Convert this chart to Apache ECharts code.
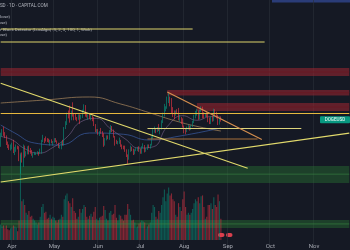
<!DOCTYPE html>
<html><head><meta charset="utf-8">
<script src="https://cdn.jsdelivr.net/npm/echarts@6/dist/echarts.min.js"></script>
<style>html,body{margin:0;padding:0;background:#151924;}#c{width:350px;height:250px;}</style>
</head><body><div id="c"></div>
<script>
// ---------- data ----------
const startDate = '2025-03-24';
const dayCount = 248; // visible daily slots (data + empty future space)
const monthNames = ['Jan','Feb','Mar','Apr','May','Jun','Jul','Aug','Sep','Oct','Nov','Dec'];

// daily candles [open, close, low, high], from 2025-03-24
const ohlc = [
[0.170,0.190,0.168,0.193],[0.190,0.195,0.186,0.200],[0.195,0.190,0.187,0.205],[0.190,0.186,0.183,0.194],
[0.186,0.175,0.171,0.188],[0.175,0.170,0.166,0.177],[0.170,0.167,0.163,0.172],[0.167,0.167,0.162,0.172],
[0.167,0.172,0.164,0.175],[0.172,0.163,0.158,0.180],[0.163,0.164,0.155,0.168],[0.164,0.168,0.160,0.172],
[0.168,0.167,0.164,0.170],[0.167,0.149,0.146,0.169],[0.149,0.150,0.129,0.156],[0.150,0.146,0.144,0.159],
[0.146,0.169,0.138,0.172],[0.169,0.155,0.151,0.170],[0.155,0.158,0.153,0.161],[0.158,0.167,0.156,0.169],
[0.167,0.159,0.156,0.170],[0.159,0.158,0.157,0.166],[0.158,0.155,0.154,0.163],[0.155,0.156,0.151,0.158],
[0.156,0.157,0.155,0.160],[0.157,0.157,0.155,0.159],[0.157,0.158,0.156,0.161],[0.158,0.157,0.154,0.160],
[0.157,0.160,0.157,0.165],[0.160,0.178,0.157,0.180],[0.178,0.182,0.176,0.189],[0.182,0.181,0.174,0.183],
[0.181,0.180,0.177,0.186],[0.180,0.179,0.176,0.183],[0.179,0.177,0.175,0.182],[0.177,0.177,0.170,0.180],
[0.177,0.176,0.174,0.181],[0.176,0.177,0.170,0.178],
[0.177,0.180,0.175,0.183],[0.180,0.177,0.176,0.183],[0.177,0.174,0.173,0.179],[0.174,0.168,0.166,0.175],
[0.168,0.168,0.165,0.171],[0.168,0.176,0.164,0.177],[0.176,0.171,0.170,0.180],[0.171,0.202,0.170,0.204],
[0.202,0.210,0.200,0.216],[0.210,0.232,0.208,0.235],[0.232,0.228,0.222,0.240],[0.228,0.220,0.213,0.252],
[0.220,0.236,0.218,0.240],[0.236,0.230,0.226,0.260],[0.230,0.224,0.218,0.232],[0.224,0.222,0.219,0.232],
[0.222,0.220,0.216,0.225],[0.220,0.229,0.219,0.231],[0.229,0.222,0.210,0.231],[0.222,0.226,0.220,0.230],
[0.226,0.238,0.223,0.242],[0.238,0.245,0.236,0.255],[0.245,0.228,0.226,0.253],[0.228,0.226,0.224,0.232],
[0.226,0.229,0.219,0.231],[0.229,0.222,0.221,0.234],[0.222,0.226,0.218,0.231],[0.226,0.218,0.216,0.228],
[0.218,0.208,0.206,0.225],[0.208,0.196,0.194,0.210],[0.196,0.198,0.193,0.200],
[0.198,0.192,0.189,0.200],[0.192,0.195,0.187,0.196],[0.195,0.193,0.191,0.202],[0.193,0.187,0.185,0.196],
[0.187,0.171,0.168,0.192],[0.171,0.181,0.170,0.183],[0.181,0.186,0.179,0.188],[0.186,0.184,0.181,0.188],
[0.184,0.197,0.180,0.198],[0.197,0.203,0.193,0.208],[0.203,0.197,0.194,0.206],[0.197,0.186,0.184,0.199],
[0.186,0.178,0.170,0.187],[0.178,0.175,0.173,0.180],[0.175,0.175,0.172,0.178],[0.175,0.177,0.173,0.184],
[0.177,0.170,0.168,0.180],[0.170,0.169,0.164,0.172],[0.169,0.166,0.164,0.170],[0.166,0.162,0.160,0.170],
[0.162,0.155,0.152,0.164],[0.155,0.151,0.142,0.156],[0.151,0.162,0.148,0.164],[0.162,0.167,0.160,0.170],
[0.167,0.162,0.161,0.168],[0.162,0.157,0.155,0.165],[0.157,0.163,0.156,0.164],[0.163,0.164,0.161,0.166],
[0.164,0.165,0.161,0.168],[0.165,0.164,0.160,0.169],
[0.164,0.159,0.157,0.165],[0.159,0.168,0.157,0.169],[0.168,0.170,0.166,0.174],[0.170,0.161,0.159,0.171],
[0.161,0.165,0.160,0.166],[0.165,0.170,0.163,0.172],[0.170,0.168,0.166,0.172],[0.168,0.172,0.165,0.173],
[0.172,0.184,0.170,0.186],[0.184,0.198,0.182,0.200],[0.198,0.199,0.193,0.205],[0.199,0.196,0.192,0.201],
[0.196,0.201,0.194,0.204],[0.201,0.198,0.196,0.210],[0.198,0.201,0.190,0.203],[0.201,0.216,0.199,0.218],
[0.216,0.232,0.212,0.235],[0.232,0.241,0.226,0.256],[0.241,0.247,0.238,0.250],[0.247,0.265,0.244,0.275],
[0.265,0.270,0.258,0.287],[0.270,0.268,0.250,0.275],[0.268,0.240,0.234,0.271],[0.240,0.238,0.225,0.248],
[0.238,0.229,0.220,0.240],[0.229,0.237,0.228,0.240],[0.237,0.236,0.232,0.243],[0.236,0.220,0.218,0.246],
[0.220,0.222,0.215,0.230],[0.222,0.216,0.210,0.225],[0.216,0.205,0.203,0.222],
[0.205,0.197,0.192,0.207],[0.197,0.196,0.190,0.202],[0.196,0.203,0.194,0.205],[0.203,0.205,0.199,0.209],
[0.205,0.201,0.197,0.207],[0.201,0.206,0.198,0.208],[0.206,0.214,0.204,0.217],[0.214,0.226,0.212,0.230],
[0.226,0.233,0.222,0.239],[0.233,0.236,0.228,0.244],[0.236,0.224,0.219,0.240],[0.224,0.240,0.220,0.242],
[0.240,0.245,0.236,0.250],[0.245,0.230,0.222,0.249],[0.230,0.228,0.222,0.236],[0.228,0.229,0.225,0.232],
[0.229,0.228,0.225,0.236],[0.228,0.220,0.214,0.232],[0.220,0.213,0.210,0.224],[0.213,0.224,0.210,0.226],
[0.224,0.219,0.215,0.228],[0.219,0.238,0.216,0.244],[0.238,0.233,0.229,0.243],[0.233,0.227,0.222,0.237],
[0.227,0.212,0.208,0.230],[0.212,0.220,0.209,0.223],[0.220,0.219,0.215,0.226]
];

// daily volume (billions), same days as ohlc
const volume = [
1.6,1.4,1.5,1.2,1.5,1.1,1.0,1.2,
1.3,1.5,1.4,1.3,0.9,2.0,9.0,4.0,4.2,3.6,2.8,2.6,3.0,2.4,2.5,2.2,2.0,1.8,1.6,1.8,2.4,3.4,3.7,2.8,2.9,2.2,2.3,2.6,2.2,2.4,
2.3,2.0,1.8,2.1,2.2,2.6,2.4,4.2,4.6,4.8,4.0,3.8,3.4,4.3,3.0,2.8,2.2,2.4,3.2,2.8,3.2,3.6,3.4,2.4,2.2,2.5,2.7,2.4,2.9,3.4,2.2,
2.0,2.3,2.4,2.5,3.5,3.1,2.2,2.0,2.8,3.0,2.6,2.7,3.6,2.3,2.0,2.6,2.5,2.2,2.0,2.6,2.6,3.7,3.2,2.6,2.0,2.1,1.8,1.3,1.4,1.7,
1.8,2.0,1.9,1.8,1.2,1.4,1.6,1.8,2.8,3.6,3.4,2.4,2.2,3.0,2.8,3.6,4.4,5.2,4.0,4.8,5.4,4.6,4.8,4.2,4.0,2.6,2.4,3.8,3.4,3.0,4.2,
5.0,3.4,2.6,2.8,2.6,2.8,3.2,3.8,4.2,4.0,4.4,3.8,4.5,4.6,3.4,2.2,2.4,3.6,3.6,3.8,3.2,4.4,3.6,3.4,4.7,4.0,2.2
];

// moving averages (date, price)
const maSlow = [['2025-03-24',0.2582],['2025-04-24',0.2659],['2025-05-26',0.2739],['2025-06-17',0.2557],['2025-07-08',0.2341],['2025-07-26',0.2165],['2025-08-12',0.2041],['2025-08-27',0.1962]];
const maMid = [['2025-03-24',0.2081],['2025-04-03',0.1924],['2025-04-17',0.1744],['2025-05-05',0.1711],['2025-05-26',0.1924],['2025-06-19',0.1900],['2025-07-07',0.1797],['2025-07-29',0.1868],['2025-08-27',0.2021]];
const maFast = [['2025-03-24',0.186],['2025-04-01',0.180],['2025-04-10',0.165],['2025-04-20',0.158],['2025-04-30',0.167],['2025-05-10',0.185],['2025-05-20',0.215],['2025-05-31',0.222],['2025-06-10',0.200],['2025-06-20',0.182],['2025-06-30',0.166],['2025-07-10',0.168],['2025-07-20',0.205],['2025-07-31',0.228],['2025-08-10',0.218],['2025-08-20',0.226],['2025-08-27',0.225]];

// order-block zones (price ranges, start date)
const bearZones = [
  {start:'2025-03-24', low:0.3365, high:0.3639},
  {start:'2025-07-20', low:0.2779, high:0.2933},
  {start:'2025-08-10', low:0.2387, high:0.2582}
];
const bullZones = [
  {start:'2025-03-24', low:0.1179, high:0.1392},
  {start:'2025-03-24', low:0.0758, high:0.0820}
];
// horizontal drawn levels
const levels = [
  {start:'2025-03-24', end:'2025-08-07', price:0.5334},
  {start:'2025-03-24', end:'2025-09-27', price:0.4696},
  {start:'2025-03-24', end:'2025-11-26', price:0.2330},
  {start:'2025-07-06', end:'2025-10-23', price:0.2011},
  {start:'2025-07-06', end:'2025-09-22', price:0.1814}
];
// trend lines
const trendLines = [
  {from:['2025-03-24',0.3135], to:['2025-09-15',0.1363]},
  {from:['2025-07-20',0.2873], to:['2025-09-25',0.1805]},
  {from:['2025-03-24',0.1191], to:['2025-11-26',0.1922]}
];
const headerTexts = ['DOGEUSD · 1D · CAPITAL.COM','MA (200, close)','MA (50, close)','Order Block Detector (LuxAlgo) (5, 2, 3, 100, 1, Wick)','MA (20, close)'];
const tickerName = 'DOGEUSD';

// ---------- styles ----------
const UP = '#089981', DOWN = '#f23645';
const levelColors = ['#ddd36a','#ddd36a','#e6b83e','#ddd47c','#a8703a'];
const trendColors = ['#e2da6c','#d8904f','#e2da6c'];

// ---------- build ----------
const dates = [];
const d0 = new Date(startDate + 'T00:00:00Z');
for (let i = 0; i < dayCount; i++) dates.push(new Date(d0.getTime() + i*86400000).toISOString().slice(0,10));
const lastDate = dates[dates.length-1];
const isMonthStart = (i, v) => v.slice(8,10) === '01';

const zoneArea = (z, fill) => [
  {xAxis: z.start, yAxis: z.high, itemStyle:{color: fill}},
  {xAxis: lastDate, yAxis: z.low}
];
const areaData = bearZones.map(z => zoneArea(z, 'rgba(160,38,50,0.55)'))
  .concat(bullZones.map(z => zoneArea(z, 'rgba(40,118,52,0.42)')));

// straight segments drawn as two-point line series on the price axes
const segment = (a, b, color, z, w) => ({
  type:'line', xAxisIndex:0, yAxisIndex:0, data:[a, b], symbol:'none', silent:true, z: z,
  lineStyle:{color: color, width: w}
});
const midSeries = bearZones.map(z => segment([z.start, (z.low+z.high)/2], [lastDate, (z.low+z.high)/2], 'rgba(105,25,35,0.85)', 2, 1))
  .concat(bullZones.map(z => segment([z.start, (z.low+z.high)/2], [lastDate, (z.low+z.high)/2], 'rgba(60,140,70,0.55)', 2, 1)));
const levelSeries = levels.map((l, i) => segment([l.start, l.price], [l.end, l.price], levelColors[i], 6, 1.2));
const trendSeries = trendLines.map((t, i) => segment(t.from, t.to, trendColors[i], 6, 1.1));

const volData = volume.map((v, i) => ({value: v, itemStyle:{color: ohlc[i][1] >= ohlc[i][0] ? 'rgba(8,153,129,0.5)' : 'rgba(242,54,69,0.5)'}}));

const headerGraphics = [
  {type:'rect', shape:{x:272, y:0, width:78, height:2.5}, style:{fill:'#2a3c78'}},
  {type:'text', x:-15, y:5.5, style:{text: headerTexts[0], fill:'#b2b5be', font:'4.6px Roboto', align:'left', verticalAlign:'middle'}},
  {type:'text', x:10, y:17, style:{text: headerTexts[1], fill:'#b2b5be', font:'4.4px Roboto', align:'right', verticalAlign:'middle'}},
  {type:'text', x:7, y:23, style:{text: headerTexts[2], fill:'#b2b5be', font:'4.4px Roboto', align:'right', verticalAlign:'middle'}},
  {type:'text', x:92, y:29.5, style:{text: headerTexts[3], fill:'#b2b5be', font:'4.4px Roboto', align:'right', verticalAlign:'middle'}},
  {type:'text', x:7, y:35, style:{text: headerTexts[4], fill:'#b2b5be', font:'4.4px Roboto', align:'right', verticalAlign:'middle'}},
  {type:'rect', shape:{x:218, y:233, width:6.5, height:4, r:2}, style:{fill:'#d9404e'}},
  {type:'rect', shape:{x:226, y:233, width:6.5, height:4, r:2}, style:{fill:'#d9404e'}}
];

const chart = echarts.init(document.getElementById('c'), null, {renderer:'canvas', width:350, height:250});
const option = {
  backgroundColor: '#151924',
  animation: false,
  grid: [
    {left:0, right:0, top:0, bottom:0},
    {left:0, right:0, bottom:10, height:97}
  ],
  xAxis: [
    {type:'category', gridIndex:0, data: dates, boundaryGap:true,
     axisLine:{show:false}, axisTick:{show:false}, axisLabel:{show:false},
     splitLine:{show:true, interval: isMonthStart, lineStyle:{color:'rgba(42,46,57,0.6)', width:1}}},
    {type:'category', gridIndex:1, data: dates, boundaryGap:true,
     axisLine:{show:false}, axisTick:{show:false}, splitLine:{show:false},
     axisLabel:{show:true, interval: isMonthStart, formatter: v => monthNames[+v.slice(5,7)-1],
       color:'#a3a6af', fontSize:6, margin:3, fontFamily:'Roboto'}}
  ],
  yAxis: [
    {type:'log', logBase: 10, gridIndex:0, min:0.061107, max:0.70884, show:false, splitLine:{show:false}},
    {type:'value', gridIndex:1, min:0, max:10, show:false, splitLine:{show:false}}
  ],
  series: [
    {type:'line', xAxisIndex:0, yAxisIndex:0, data:[], z:1, silent:true,
     markArea:{silent:true, data: areaData}},
    ...midSeries,
    {type:'bar', xAxisIndex:1, yAxisIndex:1, data: volData, barWidth:'80%', z:2, silent:true},
    {type:'line', xAxisIndex:0, yAxisIndex:0, data: maSlow, smooth:0.5, symbol:'none', z:3, silent:true,
     lineStyle:{color:'rgba(190,150,100,0.7)', width:0.9}},
    {type:'line', xAxisIndex:0, yAxisIndex:0, data: maMid, smooth:0.5, symbol:'none', z:3, silent:true,
     lineStyle:{color:'rgba(60,95,170,0.75)', width:0.9}},
    {type:'line', xAxisIndex:0, yAxisIndex:0, data: maFast, smooth:0.5, symbol:'none', z:3, silent:true,
     lineStyle:{color:'rgba(180,140,200,0.55)', width:0.7}},
    {type:'candlestick', xAxisIndex:0, yAxisIndex:0, data: ohlc, barWidth:1, z:4, silent:true,
     itemStyle:{color:UP, color0:DOWN, borderColor:UP, borderColor0:DOWN, borderWidth:0.6}},
    ...levelSeries,
    ...trendSeries
  ],
  graphic: headerGraphics
};
chart.setOption(option);

// price tag at last close, positioned through the price scale
const lastClose = ohlc[ohlc.length-1][1];
const tagY = chart.convertToPixel({yAxisIndex:0}, lastClose);
chart.setOption({graphic: headerGraphics.concat([
  {type:'rect', shape:{x:320, y:tagY-3.5, width:30, height:7, r:1}, style:{fill:UP}},
  {type:'text', x:335, y:tagY, style:{text: tickerName, fill:'#ffffff', font:'4.6px Roboto', align:'center', verticalAlign:'middle'}}
])});
</script>
</body></html>
